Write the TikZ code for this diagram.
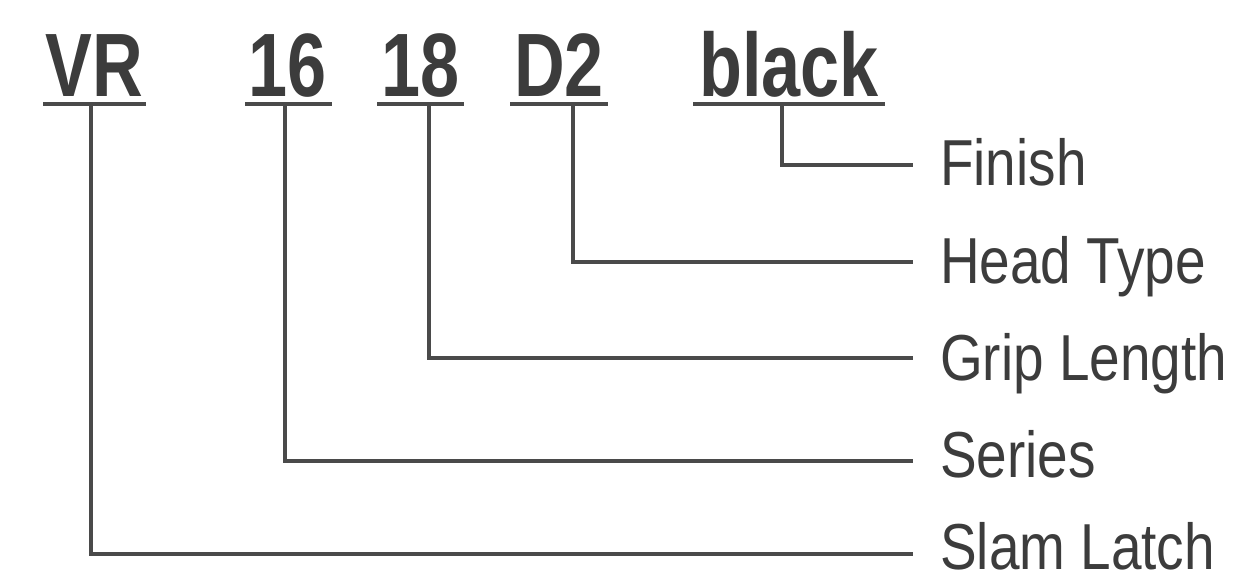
\documentclass[tikz,border=0pt]{standalone}
\usepackage{fontspec}
\setmainfont{Liberation Sans}
\newfontfamily\codefont[FakeStretch=0.78]{Liberation Sans Bold}
\newfontfamily\lblfont[FakeStretch=0.845]{Liberation Sans}
\definecolor{ink}{HTML}{3C3C3C}
\definecolor{wire}{HTML}{4A4A4A}
\begin{document}
\begin{tikzpicture}[x=1pt,y=-1pt,
  code/.style={inner sep=0pt,anchor=base,text=ink,font=\codefont\fontsize{90}{100}\selectfont},
  lbl/.style={inner sep=0pt,anchor=base west,text depth=0pt,text=ink,font=\lblfont\fontsize{65}{70}\selectfont},
  uline/.style={draw=wire,line width=4pt},
  conn/.style={draw=wire,line width=3.2pt,line cap=butt,line join=miter}]
\useasboundingbox (0,0) rectangle (1252,582);
% codes
\node[code] (vr) at (94.5,96) {VR};
\node[code] (s16) at (288,96) {16};
\node[code] (s18) at (420.5,96) {18};
\node[code] (d2) at (559,96) {D2};
\node[code] (blk) at (789,96) {black};
% underlines
\draw[uline] (43,104) -- (146,104);
\draw[uline] (245,104) -- (332,104);
\draw[uline] (377,104) -- (464,104);
\draw[uline] (510,104) -- (608,104);
\draw[uline] (693,104) -- (885,104);
% labels
\node[lbl] (fin) at (940,185) {Finish};
\node[lbl] (head) at (940,283) {Head Type};
\node[lbl] (grip) at (940,380) {Grip Length};
\node[lbl] (ser) at (940,477) {Series};
\node[lbl] (slam) at (940,569) {Slam Latch};
% connector start points
\coordinate (cvr) at (91,105);
\coordinate (c16) at (285,105);
\coordinate (c18) at (429,105);
\coordinate (cd2) at (573,105);
\coordinate (cblk) at (782,105);
% connector end points
\coordinate (efin) at (913,165);
\coordinate (ehead) at (913,262);
\coordinate (egrip) at (913,358);
\coordinate (eser) at (913,461);
\coordinate (eslam) at (913,554);
\draw[conn] (cblk) |- (efin);
\draw[conn] (cd2) |- (ehead);
\draw[conn] (c18) |- (egrip);
\draw[conn] (c16) |- (eser);
\draw[conn] (cvr) |- (eslam);
\end{tikzpicture}
\end{document}
